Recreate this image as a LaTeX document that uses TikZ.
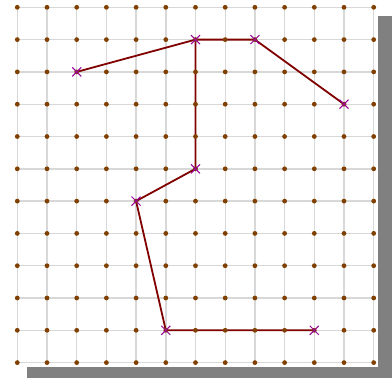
\documentclass[tikz,border=0pt]{standalone}
\usetikzlibrary{shapes.misc}
\definecolor{shadowgray}{HTML}{808080}
\definecolor{gridgray}{HTML}{D8D8D8}
\definecolor{dotbrown}{HTML}{804000}
\definecolor{pathred}{HTML}{800000}
\definecolor{crosspurple}{HTML}{990099}
\begin{document}
\begin{tikzpicture}[x=1pt,y=-1pt,
  gridline/.style={draw=gridgray,line width=1.4pt},
  gdot/.style={fill=dotbrown},
  segment/.style={draw=pathred,line width=1.8pt},
  vmark/.style={cross out,draw=crosspurple,line width=1pt,minimum size=9pt,inner sep=0pt,outer sep=0pt}]
\useasboundingbox (0,0) rectangle (392,378);
\fill[shadowgray] (27,16.3) rectangle (392,378);
\fill[white] (0,0) rectangle (377.6,367);
\def\xo{17.3}\def\dx{29.7}\def\yo{7.3}\def\dy{32.3}
\foreach \i in {0,...,12} \draw[gridline] ({\xo+\dx*\i},\yo) -- ({\xo+\dx*\i},{\yo+\dy*11});
\foreach \j in {0,...,11} \draw[gridline] (\xo,{\yo+\dy*\j}) -- ({\xo+\dx*12},{\yo+\dy*\j});
% vertices
\coordinate (a) at ({\xo+\dx*2},{\yo+\dy*2});
\coordinate (b) at ({\xo+\dx*6},{\yo+\dy*1});
\coordinate (c) at ({\xo+\dx*8},{\yo+\dy*1});
\coordinate (d) at ({\xo+\dx*11},{\yo+\dy*3});
\coordinate (e) at ({\xo+\dx*6},{\yo+\dy*5});
\coordinate (f) at ({\xo+\dx*4},{\yo+\dy*6});
\coordinate (g) at ({\xo+\dx*5},{\yo+\dy*10});
\coordinate (h) at ({\xo+\dx*10},{\yo+\dy*10});
\draw[segment] (a) -- (b) -- (c) -- (d);
\draw[segment] (b) -- (e) -- (f) -- (g) -- (h);
\foreach \i in {0,...,12} \foreach \j in {0,...,11}
  \fill[gdot] ({\xo+\dx*\i},{\yo+\dy*\j}) circle (2.4pt);
\foreach \v in {a,b,c,d,e,f,g,h} \node[vmark] (m\v) at (\v) {};
\end{tikzpicture}
\end{document}
